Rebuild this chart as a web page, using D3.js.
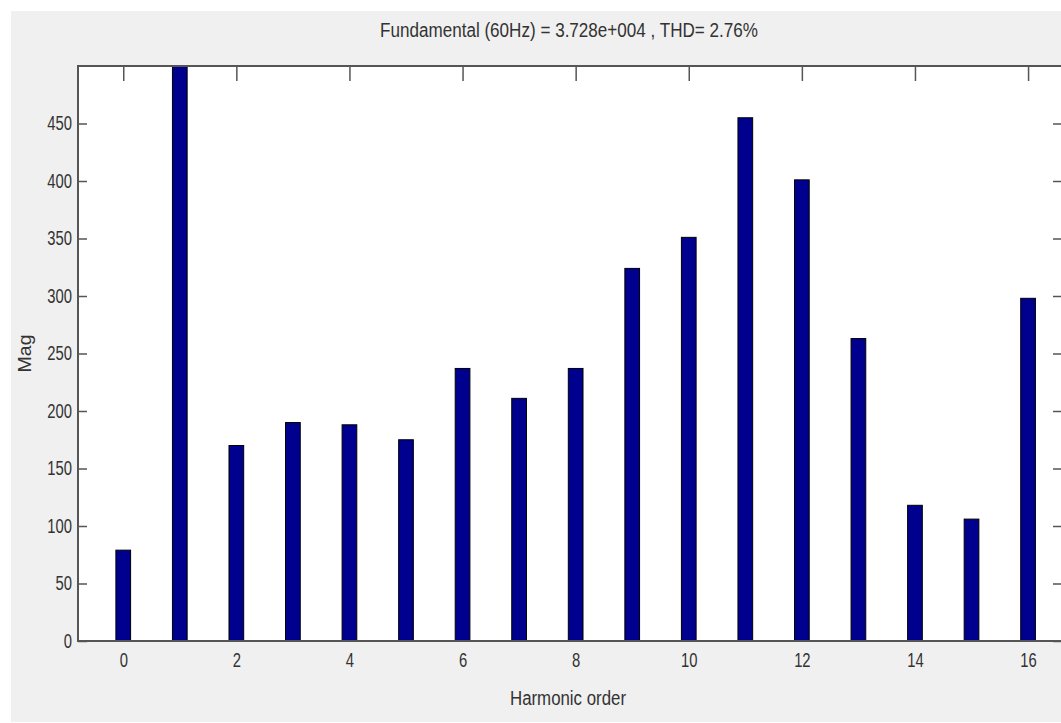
<!DOCTYPE html>
<html>
    <head>
        <meta charset="utf-8">
        <script type="text/javascript" src="https://cdnjs.cloudflare.com/ajax/libs/d3/7.8.5/d3.min.js"></script>
        <style>
        body {
            margin: 0;
            background: #fff;
        }
        svg text {
            font-family: "Liberation Sans", Arial, sans-serif;
            fill: #333;
        }
        .axis line {
            stroke: #555;
            stroke-width: 1.5;
        }
        .axis path {
            display: none;
        }
        </style>
    </head>
    <body>
        <script type="text/javascript">
        // harmonic spectrum (bar 1 is the fundamental, clipped)
        var harmonics = [0, 1, 2, 3, 4, 5, 6, 7, 8, 9, 10, 11, 12, 13, 14, 15, 16];
        var magnitudes = [79, 37280, 170, 190, 188, 175, 237, 211, 237, 324, 351, 455, 401, 263, 118, 106, 298];
        var xTicks = [0, 2, 4, 6, 8, 10, 12, 14, 16];
        var yTicks = [0, 50, 100, 150, 200, 250, 300, 350, 400, 450];
        var titleText = "Fundamental (60Hz) = 3.728e+004 , THD= 2.76%";

        var W = 1061, H = 723;
        // plot box (note: "top" is reserved on window, so use other names)
        var plotL = 78, plotR = 1062, plotT = 66, plotB = 641;
        var barWidth = 0.26;

        var svg = d3.select("body")
                    .append("svg")
                    .attr("width", W)
                    .attr("height", H);

        // figure background
        svg.append("rect")
            .attr("x", 11).attr("y", 11)
            .attr("width", W - 11).attr("height", H - 12)
            .attr("fill", "#f0f0f0");

        var xScale = d3.scaleLinear()
                        .domain([-0.8, 16.6])
                        .range([plotL, plotR]);

        var yScale = d3.scaleLinear()
                        .domain([0, 500])
                        .range([plotB, plotT]);

        // plot area
        svg.append("rect")
            .attr("x", plotL).attr("y", plotT)
            .attr("width", plotR - plotL).attr("height", plotB - plotT)
            .attr("fill", "#fff");

        svg.append("clipPath")
            .attr("id", "plotclip")
          .append("rect")
            .attr("x", plotL).attr("y", plotT)
            .attr("width", plotR - plotL).attr("height", plotB - plotT);

        // ticks sit under the bars (matlab layer bottom)
        svg.append("g")
            .attr("class", "axis")
            .attr("transform", "translate(0," + plotB + ")")
            .call(d3.axisBottom(xScale).tickValues(xTicks).tickSizeInner(-9).tickSizeOuter(0).tickPadding(12))
          .selectAll("text")
            .style("font-size", "20px");

        svg.append("g")
            .attr("class", "axis")
            .attr("transform", "translate(0," + plotT + ")")
            .call(d3.axisTop(xScale).tickValues(xTicks).tickSizeInner(-15).tickSizeOuter(0).tickFormat(""));

        svg.append("g")
            .attr("class", "axis")
            .attr("transform", "translate(" + plotL + ",0)")
            .call(d3.axisLeft(yScale).tickValues(yTicks).tickSizeInner(-9).tickSizeOuter(0).tickPadding(6))
          .selectAll("text")
            .style("font-size", "20px");

        svg.append("g")
            .attr("class", "axis")
            .attr("transform", "translate(" + plotR + ",0)")
            .call(d3.axisRight(yScale).tickValues(yTicks).tickSizeInner(-9).tickSizeOuter(0).tickFormat(""));

        // bars
        svg.append("g")
            .attr("clip-path", "url(#plotclip)")
          .selectAll("rect")
            .data(magnitudes)
          .enter().append("rect")
            .attr("x", function(d, i) { return xScale(harmonics[i] - barWidth / 2); })
            .attr("width", function(d, i) { return xScale(harmonics[i] + barWidth / 2) - xScale(harmonics[i] - barWidth / 2); })
            .attr("y", function(d) { return yScale(Math.min(d, 520)); })
            .attr("height", function(d) { return plotB - yScale(Math.min(d, 520)); })
            .attr("fill", "#00008f")
            .attr("stroke", "#000")
            .attr("stroke-width", 1);

        // axes box
        svg.append("rect")
            .attr("x", plotL).attr("y", plotT)
            .attr("width", plotR - plotL).attr("height", plotB - plotT)
            .attr("fill", "none")
            .attr("stroke", "#555")
            .attr("stroke-width", 2);

        // title and labels
        svg.append("text")
            .attr("x", (plotL + plotR) / 2 - 1)
            .attr("y", 37)
            .attr("text-anchor", "middle")
            .style("font-size", "20px")
            .attr("textLength", 378)
            .attr("lengthAdjust", "spacingAndGlyphs")
            .text(titleText);

        svg.append("text")
            .attr("x", 568)
            .attr("y", 705)
            .attr("text-anchor", "middle")
            .style("font-size", "20px")
            .attr("textLength", 116)
            .attr("lengthAdjust", "spacingAndGlyphs")
            .text("Harmonic order");

        svg.append("text")
            .attr("transform", "translate(31," + ((plotT + plotB) / 2) + ") rotate(-90)")
            .attr("text-anchor", "middle")
            .style("font-size", "19px")
            .attr("textLength", 38)
            .attr("lengthAdjust", "spacingAndGlyphs")
            .text("Mag");

        // matlab fonts look narrow, squeeze the tick labels a bit
        svg.selectAll(".axis text").each(function() {
            var w = this.getComputedTextLength();
            d3.select(this)
                .attr("textLength", w * 0.74)
                .attr("lengthAdjust", "spacingAndGlyphs");
        });
        </script>
    </body>
</html>
